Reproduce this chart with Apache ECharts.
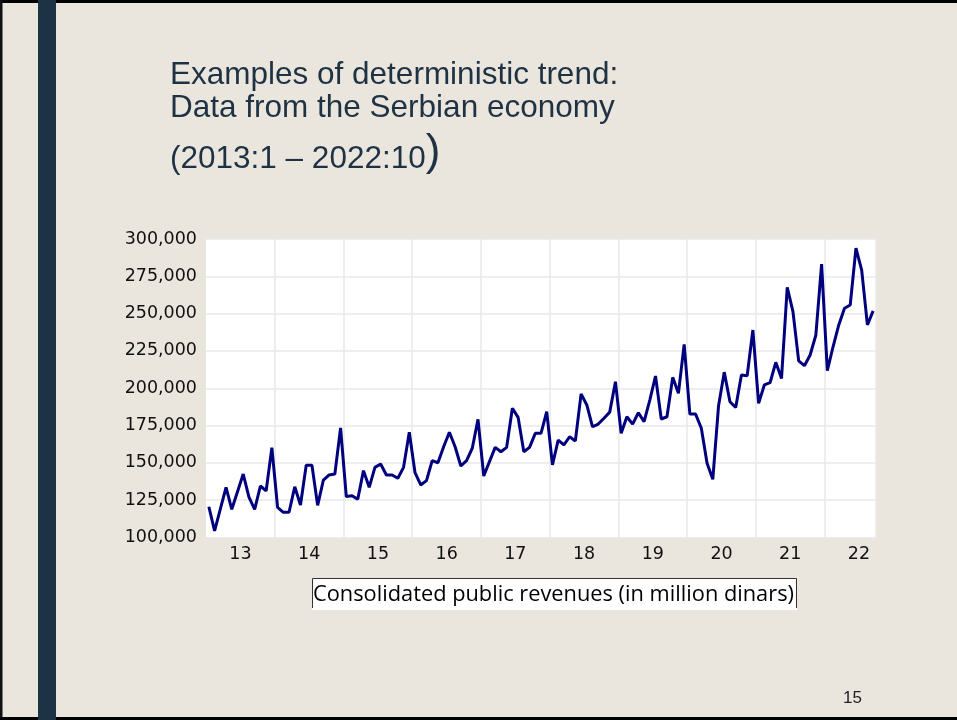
<!DOCTYPE html>
<html>
<head>
<meta charset="utf-8">
<script src="https://cdn.jsdelivr.net/npm/echarts@6/dist/echarts.min.js"></script>
<style>
  html, body { margin: 0; padding: 0; background: #eae6dd; }
  #chart { width: 957px; height: 720px; }
</style>
</head>
<body>
<div id="chart"></div>
<script>
// monthly data, 2013:1 onwards (million dinars)
const startYear = 2013;
const yearLabels = ['13', '14', '15', '16', '17', '18', '19', '20', '21', '22'];
const yTicks = [100000, 125000, 150000, 175000, 200000, 225000, 250000, 275000, 300000];
const revenues = [
  120600, 104400, 119000, 133600, 118900, 130700, 142500, 127000, 118900, 134500, 131200, 160200,
  120200, 116900, 116900, 134000, 121800, 148400, 148400, 121500, 138500, 141900, 142500, 173400,
  127400, 128000, 125600, 144800, 133600, 147000, 149200, 141900, 141900, 139700, 147000, 170500,
  143400, 135200, 138100, 151500, 150100, 160800, 170500, 160800, 147900, 151500, 159800, 179200,
  141200, 150800, 160400, 157500, 160400, 186600, 180500, 157500, 160400, 169800, 169800, 184300,
  148600, 165300, 162000, 167500, 164700, 196200, 188800, 174200, 176000, 179900, 184000, 204400,
  169800, 180900, 176000, 183600, 177600, 192100, 208200, 179400, 180900, 207300, 196600, 229400,
  182700, 182700, 173200, 149700, 139000, 188100, 210800, 191000, 187100, 208900, 208400, 239000,
  189900, 202200, 203700, 217400, 206600, 267600, 251300, 218300, 215100, 222300, 235700, 283200,
  211800, 227800, 242400, 253600, 255800, 293800, 279200, 242400, 251800
];

const months = revenues.map((v, i) => (startYear + Math.floor(i / 12)) + ':' + (i % 12 + 1));

const chart = echarts.init(document.getElementById('chart'));

const titleColor = '#1f3244';

const option = {
  backgroundColor: '#eae6dd',
  animation: false,
  grid: {
    left: 206, top: 239, width: 670, height: 298.5,
    show: true, backgroundColor: '#ffffff', borderWidth: 0
  },
  xAxis: {
    type: 'category',
    data: months,
    boundaryGap: true,
    axisLine: { show: false },
    axisTick: { show: false },
    axisLabel: {
      interval: (idx) => idx % 12 === 5,
      margin: 8,
      formatter: (val, idx) => '{y|' + yearLabels[Math.floor(idx / 12)] + '}',
      rich: {
        y: { padding: [0, 0, 0, 6], fontFamily: 'DejaVu Sans', fontSize: 17.5, color: '#111' }
      }
    },
    splitLine: {
      show: true,
      interval: (idx) => idx % 12 === 0 && idx > 0,
      lineStyle: { color: '#e9e9e9', width: 1.5 }
    }
  },
  yAxis: {
    type: 'value',
    min: yTicks[0],
    max: yTicks[yTicks.length - 1],
    interval: 25000,
    axisLine: { show: false },
    axisTick: { show: false },
    axisLabel: {
      margin: 9,
      fontFamily: 'DejaVu Sans', fontSize: 17.5, color: '#111',
      formatter: (v) => v.toLocaleString('en-US')
    },
    splitLine: { lineStyle: { color: '#e9e9e9', width: 1.5 } }
  },
  series: [{
    type: 'line',
    data: revenues,
    symbol: 'none',
    lineStyle: { color: '#00007f', width: 3 },
    itemStyle: { color: '#00007f' }
  }],
  graphic: [
    // slide frame and left bar
    { type: 'rect', shape: { x: 0, y: 0, width: 957, height: 3 }, style: { fill: '#000' } },
    { type: 'rect', shape: { x: 0, y: 0, width: 2.5, height: 720 }, style: { fill: '#111' } },
    { type: 'rect', shape: { x: 0, y: 717, width: 957, height: 3 }, style: { fill: '#000' } },
    { type: 'rect', shape: { x: 38, y: 0, width: 18, height: 720 }, style: { fill: '#1e3245' } },
    // title
    { type: 'text', left: 170, top: 59, style: {
        text: 'Examples of deterministic trend:', fill: titleColor,
        font: '31.5px "Liberation Sans"' } },
    { type: 'text', left: 170, top: 92.5, style: {
        text: 'Data from the Serbian economy', fill: titleColor,
        font: '31.5px "Liberation Sans"' } },
    { type: 'text', left: 170, top: 131, style: {
        text: '{a|(2013:1 – 2022:10}{b|)}', fill: titleColor,
        rich: {
          a: { fontFamily: 'Liberation Sans', fontSize: 31.5, fill: titleColor, verticalAlign: 'bottom' },
          b: { fontFamily: 'Liberation Sans', fontSize: 44, fill: titleColor, verticalAlign: 'bottom' }
        } } },
    // caption box
    { type: 'rect', shape: { x: 312, y: 578, width: 485, height: 32 }, style: { fill: '#fff' } },
    { type: 'polyline', shape: { points: [[312.5, 608], [312.5, 578.5], [796.5, 578.5], [796.5, 608]] },
      style: { stroke: '#333', lineWidth: 1, fill: null } },
    { type: 'text', left: 313, top: 584, style: {
        text: 'Consolidated public revenues (in million dinars)', fill: '#000',
        font: '21.8px "Open Sans"' } },
    // slide number
    { type: 'text', left: 843, top: 690, style: { text: '15', fill: '#222', font: '17px "Liberation Sans"' } }
  ]
};

chart.setOption(option);
</script>
</body>
</html>
